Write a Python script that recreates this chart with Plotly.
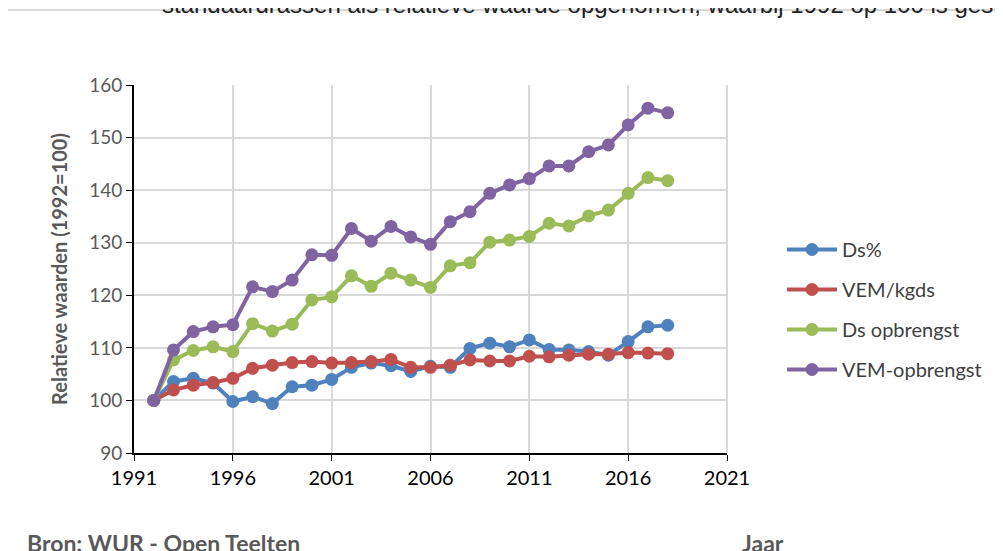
import plotly.graph_objects as go

# de pagina heeft 8px marge; alle posities zijn schermpixels min 8
OFF = 8
W, H = 1003 - OFF, 551 - OFF
L, R, T, B = 134 - OFF, 727 - OFF, 85 - OFF, 453 - OFF  # plotgebied

jaren = list(range(1992, 2019))

ds_pct = [100, 103.6, 104.2, 103.3, 99.8, 100.7, 99.4, 102.6, 102.9, 104.0,
          106.3, 107.1, 106.6, 105.5, 106.5, 106.3, 109.9, 110.9, 110.2, 111.5,
          109.7, 109.6, 109.3, 108.6, 111.2, 114.0, 114.3]
vem_kgds = [100, 102.0, 102.9, 103.4, 104.2, 106.1, 106.7, 107.2, 107.4, 107.1,
            107.2, 107.4, 107.8, 106.3, 106.3, 106.7, 107.7, 107.5, 107.5, 108.4,
            108.3, 108.6, 108.8, 108.8, 109.1, 109.0, 108.9]
ds_opbr = [100, 107.7, 109.5, 110.2, 109.3, 114.6, 113.2, 114.5, 119.1, 119.7,
           123.7, 121.7, 124.2, 122.9, 121.5, 125.6, 126.2, 130.1, 130.5, 131.2,
           133.7, 133.2, 135.1, 136.2, 139.4, 142.4, 141.8]
vem_opbr = [100, 109.6, 113.1, 114.0, 114.4, 121.6, 120.7, 122.9, 127.7, 127.6,
            132.7, 130.3, 133.1, 131.1, 129.7, 134.0, 135.9, 139.4, 141.0, 142.2,
            144.6, 144.6, 147.3, 148.6, 152.4, 155.6, 154.7]

reeksen = [("Ds%", ds_pct, "#4F81BD"),
           ("VEM/kgds", vem_kgds, "#C0504D"),
           ("Ds opbrengst", ds_opbr, "#9BBB59"),
           ("VEM-opbrengst", vem_opbr, "#8064A2")]

GRIJS = "#595959"
FONT = "Lato, 'Open Sans', sans-serif"


def px_x(p):
    """schermpixel -> paper x"""
    return (p - OFF - L) / (R - L)


def px_y(p):
    """schermpixel -> paper y"""
    return (B - (p - OFF)) / (B - T)


fig = go.Figure()
for naam, waarden, kleur in reeksen:
    fig.add_trace(go.Scatter(x=jaren, y=waarden, mode="lines+markers", name=naam,
                             legendgroup=naam,
                             line=dict(color=kleur, width=4),
                             marker=dict(color=kleur, size=13)))

fig.update_layout(
    width=W, height=H, paper_bgcolor="white", plot_bgcolor="white",
    font=dict(family=FONT, color=GRIJS),
    margin=dict(l=L, r=W - R, t=T, b=H - B),
    showlegend=True,
    legend=dict(x=px_x(782), y=px_y(230), xanchor="left", yanchor="top",
                font=dict(size=20, color="#404040"), tracegroupgap=11,
                itemwidth=50, bgcolor="rgba(0,0,0,0)"),
    xaxis=dict(range=[1991, 2021], tick0=1991, dtick=5, showgrid=True,
               gridcolor="#D9D9D9", gridwidth=2, showline=True, linecolor="black",
               linewidth=2, ticks="outside", ticklen=6, tickcolor="black",
               tickfont=dict(size=20, color="black"), zeroline=False),
    yaxis=dict(range=[90, 160], dtick=10, showgrid=True, gridcolor="#D9D9D9",
               gridwidth=2, showline=True, linecolor="black", linewidth=2,
               ticks="outside", ticklen=6, tickcolor="black",
               tickfont=dict(size=19, color=GRIJS), zeroline=False,
               title=dict(text="<b>Relatieve waarden (1992=100)</b>",
                          font=dict(size=20, color=GRIJS), standoff=16)),
)

# rand van het grafiekgebied (Excel)
fig.add_shape(type="rect", xref="paper", yref="paper",
              x0=px_x(4), x1=px_x(1015), y0=px_y(570), y1=px_y(10),
              line=dict(color="#D9D9D9", width=2), layer="below")
# rechterrand plotgebied
fig.add_shape(type="line", xref="paper", yref="paper", x0=1, x1=1, y0=0, y1=1,
              line=dict(color="#D9D9D9", width=2), layer="below")

fig.add_annotation(text="standaardrassen als relatieve waarde opgenomen, waarbij 1992 op 100 is gesteld",
                   xref="paper", yref="paper", x=px_x(160), y=px_y(4),
                   xanchor="left", yanchor="middle", showarrow=False,
                   font=dict(family="Liberation Sans, Arial", size=24, color="#222"))
fig.add_annotation(text="<b>Bron: WUR - Open Teelten</b>", xref="paper", yref="paper",
                   x=px_x(25), y=px_y(543), xanchor="left", yanchor="middle",
                   showarrow=False, font=dict(size=23, color=GRIJS))
fig.add_annotation(text="<b>Jaar</b>", xref="paper", yref="paper",
                   x=px_x(740), y=px_y(543), xanchor="left", yanchor="middle",
                   showarrow=False, font=dict(size=23, color=GRIJS))

fig.write_html("out.html")
